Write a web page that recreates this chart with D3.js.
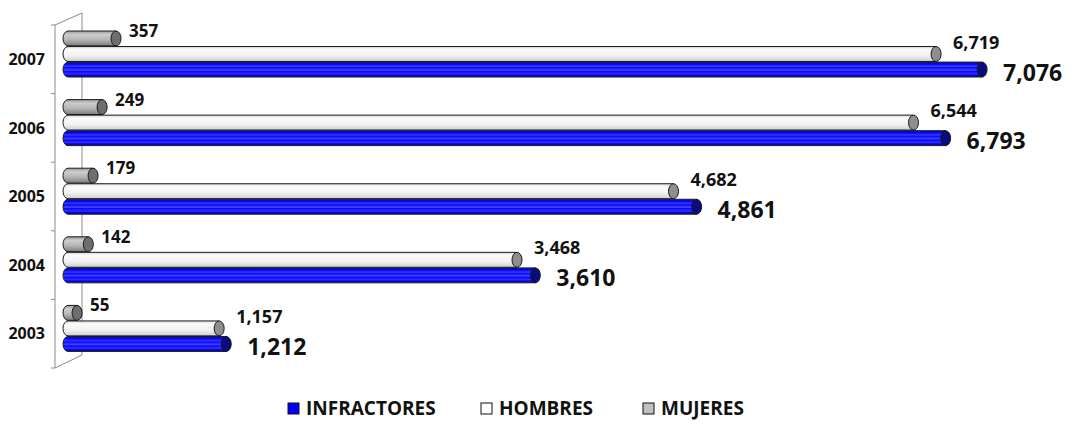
<!DOCTYPE html>
<html>
<head>
<meta charset="utf-8">
<script src="https://cdn.jsdelivr.net/npm/d3@7"></script>
<style>
  body { margin: 0; background: #fff; }
  text { font-family: "Open Sans", "Liberation Sans", Arial, sans-serif; font-weight: bold; fill: #111; }
</style>
</head>
<body>
<svg></svg>
<script>
const width = 1071, height = 428;

// data
const years = ["2007", "2006", "2005", "2004", "2003"];
const series = ["MUJERES", "HOMBRES", "INFRACTORES"];
const infractores = [7076, 6793, 4861, 3610, 1212];
const hombres = [6719, 6544, 4682, 3468, 1157];
const mujeres = [357, 249, 179, 142, 55];
const legendOrder = ["INFRACTORES", "HOMBRES", "MUJERES"];

const values = { MUJERES: mujeres, HOMBRES: hombres, INFRACTORES: infractores };

const colors = {
  INFRACTORES: { stops: [["0", "#1c1c9a"], ["0.12", "#0000f0"], ["0.3", "#3a3aff"], ["0.36", "#0808ff"], ["0.55", "#4444ff"], ["0.62", "#0808ff"], ["0.8", "#3030ff"], ["0.88", "#0000e8"], ["1", "#14148a"]], cap: "#0b0b80", legend: "#0000ff" },
  HOMBRES: { stops: [["0", "#d8d8d8"], ["0.2", "#fbfbfb"], ["0.6", "#f2f2f2"], ["1", "#cfcfcf"]], cap: "#8e8e8e", legend: "#ffffff" },
  MUJERES: { stops: [["0", "#9a9a9a"], ["0.25", "#cdcdcd"], ["0.6", "#b4b4b4"], ["1", "#7a7a7a"]], cap: "#6e6e6e", legend: "#c0c0c0" }
};

const svg = d3.select("svg")
    .attr("width", width)
    .attr("height", height);

const defs = svg.append("defs");
series.forEach(s => {
  const grad = defs.append("linearGradient")
      .attr("id", "grad-" + s)
      .attr("x1", 0).attr("y1", 0).attr("x2", 0).attr("y2", 1);
  colors[s].stops.forEach(([o, c]) => grad.append("stop").attr("offset", o).attr("stop-color", c));
});

const xScale = d3.scaleLinear().domain([0, 8000]).range([75, 75 + 8000 * 0.1289]);
const yScale = d3.scaleBand().domain(years).range([25, 368]);
const inner = d3.scaleBand().domain(series).range([6, 52]).paddingInner(0.04);

// 3d wall
const wall = svg.append("g").attr("stroke", "#8c8c8c").attr("fill", "none");
wall.append("line").attr("x1", 82).attr("x2", 82).attr("y1", 13).attr("y2", 355);
wall.append("line").attr("x1", 55).attr("x2", 55).attr("y1", 25).attr("y2", 368);
wall.append("line").attr("x1", 55).attr("x2", 82).attr("y1", 25).attr("y2", 13);
wall.append("line").attr("x1", 55).attr("x2", 82).attr("y1", 368).attr("y2", 355);
wall.selectAll(".tick")
  .data(years.map(y => yScale(y)).concat([yScale.range()[1]]))
  .enter().append("line")
    .attr("x1", 51).attr("x2", 55)
    .attr("y1", d => d).attr("y2", d => d);

// year labels
svg.selectAll(".year")
  .data(years)
  .enter().append("text")
    .attr("x", 45)
    .attr("y", d => yScale(d) + yScale.bandwidth() / 2)
    .attr("dy", "0.35em")
    .attr("text-anchor", "end")
    .style("font-size", "16px")
    .text(d => d);

const h = inner.bandwidth();
const rx = 5;
const barStart = xScale(0) - 12;

const cylinder = (x1, top) => {
  const xl = barStart + rx, xr = x1 - rx, bot = top + h;
  return `M${xl},${top}L${xr},${top}L${xr},${bot}L${xl},${bot}A${rx},${h / 2} 0 0 1 ${xl},${top}Z`;
};

const groups = svg.selectAll(".year-group")
  .data(years)
  .enter().append("g")
    .attr("transform", d => `translate(0,${yScale(d)})`);

series.forEach(s => {
  groups.append("path")
      .attr("d", (d, i) => cylinder(xScale(values[s][i]), inner(s)))
      .attr("fill", `url(#grad-${s})`)
      .attr("stroke", "#1a1a1a")
      .attr("stroke-width", 1);
  groups.append("ellipse")
      .attr("cx", (d, i) => xScale(values[s][i]) - rx)
      .attr("cy", inner(s) + h / 2)
      .attr("rx", rx)
      .attr("ry", h / 2)
      .attr("fill", colors[s].cap)
      .attr("stroke", "#1a1a1a");
});

const fmt = d3.format(",");

// value labels
groups.append("text")
    .attr("x", (d, i) => xScale(mujeres[i]) + 8)
    .attr("y", inner("MUJERES") + 6)
    .style("font-size", "17px")
    .text((d, i) => fmt(mujeres[i]));

groups.append("text")
    .attr("x", (d, i) => xScale(hombres[i]) + 12)
    .attr("y", inner("HOMBRES") + 2)
    .style("font-size", "18px")
    .text((d, i) => fmt(hombres[i]));

groups.append("text")
    .attr("x", (d, i) => xScale(infractores[i]) + 16)
    .attr("y", inner("INFRACTORES") + h / 2 + 11)
    .style("font-size", "23px")
    .text((d, i) => fmt(infractores[i]));

// legend
const legendX = d3.scaleOrdinal().domain(legendOrder).range([288, 481, 643]);
const legend = svg.selectAll(".legend")
  .data(legendOrder)
  .enter().append("g")
    .attr("transform", d => `translate(${legendX(d)},403)`);
legend.append("rect")
    .attr("width", 11).attr("height", 11)
    .attr("fill", d => colors[d].legend)
    .attr("stroke", "#111");
legend.append("text")
    .attr("x", 18)
    .attr("y", 12)
    .style("font-size", "19px")
    .text(d => d);
</script>
</body>
</html>
